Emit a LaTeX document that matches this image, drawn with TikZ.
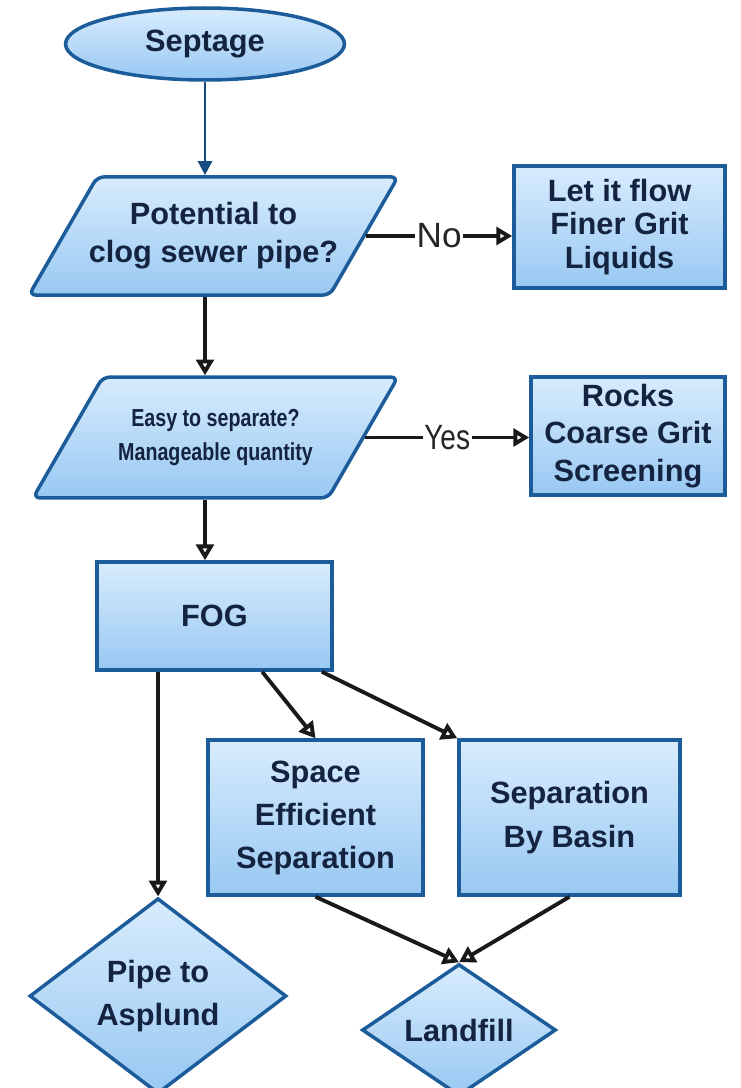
\documentclass[tikz,border=0pt]{standalone}
\usepackage{fontspec}
\setmainfont{Liberation Sans}
\newfontfamily\narrowsans[FakeStretch=0.8]{Liberation Sans}
\usetikzlibrary{shapes.geometric,arrows.meta,calc}

\definecolor{boxtop}{HTML}{D8ECFD}
\definecolor{boxbot}{HTML}{98C8F2}
\definecolor{boxline}{HTML}{1D5C9B}
\definecolor{boxtext}{HTML}{14233F}
\definecolor{startline}{HTML}{174A80}

\tikzset{
  flowbox/.style={draw=boxline, line width=2pt, top color=boxtop, bottom color=boxbot,
    text=boxtext, align=center, font=\fontsize{17.5}{21.5}\selectfont\bfseries, inner sep=2pt},
  startbox/.style={flowbox, ellipse, minimum width=5.58cm, minimum height=1.44cm},
  askbox/.style={flowbox, trapezium, trapezium left angle=60, trapezium right angle=120,
    trapezium stretches body, rounded corners=4pt},
  endbox/.style={flowbox, diamond, inner sep=0pt},
  flowline/.style={draw=black!90, line width=2.2pt, -{Triangle[open, length=9pt, width=10pt]}},
  startline/.style={draw=startline, line width=1.6pt, -{Triangle[length=8pt, width=8pt]}},
  linelabel/.style={fill=white, inner sep=1pt, text=black!85, font=\fontsize{20}{24}\selectfont}
}

\begin{document}
\begin{tikzpicture}[x=0.02cm, y=-0.02cm]
  % Fix the page size
  \useasboundingbox (0,0) rectangle (740,1088);

  % Draw the start and the two questions
  \node[startbox] (sept) at (205,44) {Septage};
  \node[askbox, inner xsep=-4.8pt, inner ysep=14.7pt] (pot) at (213.5,236) {Potential to\\clog sewer pipe?};
  \node[askbox, minimum width=7.3cm, inner ysep=18.5pt,
        font=\fontsize{14}{19}\selectfont\narrowsans\bfseries] (easy) at (215.5,437.5) {Easy to separate?\\Manageable quantity};

  % Draw the side boxes
  \node[flowbox, minimum width=4.22cm, minimum height=2.44cm,
        font=\fontsize{17.5}{19}\selectfont\bfseries] (flow) at (619.5,227) {Let it flow\\Finer Grit\\Liquids};
  \node[flowbox, minimum width=3.88cm, minimum height=2.36cm] (rocks) at (628,436) {Rocks\\Coarse Grit\\Screening};

  % Draw FOG and the separation boxes
  \node[flowbox, minimum width=4.7cm, minimum height=2.16cm] (fog) at (214.5,616) {FOG};
  \node[flowbox, minimum width=4.3cm, minimum height=3.1cm,
        font=\fontsize{17.5}{24.5}\selectfont\bfseries] (space) at (315.5,817.5) {Space\\Efficient\\Separation};
  \node[flowbox, minimum width=4.42cm, minimum height=3.1cm,
        font=\fontsize{17.5}{25}\selectfont\bfseries] (basin) at (569.5,817.5) {Separation\\By Basin};

  % Draw the two ends
  \node[endbox, minimum width=5.14cm, minimum height=3.36cm,
        font=\fontsize{17.5}{25}\selectfont\bfseries] (pipe) at (158,996) {Pipe to\\Asplund};
  \node[endbox, minimum width=3.88cm, minimum height=2.28cm] (fill) at (459,1030) {Landfill};

  % Connect the main line
  \draw[startline] (sept.south) -- (sept.south |- pot.north);
  \draw[flowline] (pot.south -| sept.south) -- (easy.north -| sept.south);
  \draw[flowline] (easy.south -| sept.south) -- (fog.north -| sept.south);

  % Connect the side answers
  \draw[flowline] (pot.east) -- node[linelabel] {No} (pot.east -| flow.west);
  \draw[flowline] (easy.east) -- node[linelabel, font=\fontsize{20}{24}\selectfont\narrowsans] {Yes} (easy.east -| rocks.west);

  % Connect FOG to the ends
  \draw[flowline] (fog.south -| pipe.north) -- (pipe.north);
  \draw[flowline] ($(fog.south)!0.4!(fog.south east)$) -- (space.north);
  \draw[flowline] ($(fog.south)!0.9!(fog.south east)$) -- (basin.north west);
  \draw[flowline] (space.south) -- (fill.north);
  \draw[flowline] (basin.south) -- (fill.north);
\end{tikzpicture}
\end{document}
